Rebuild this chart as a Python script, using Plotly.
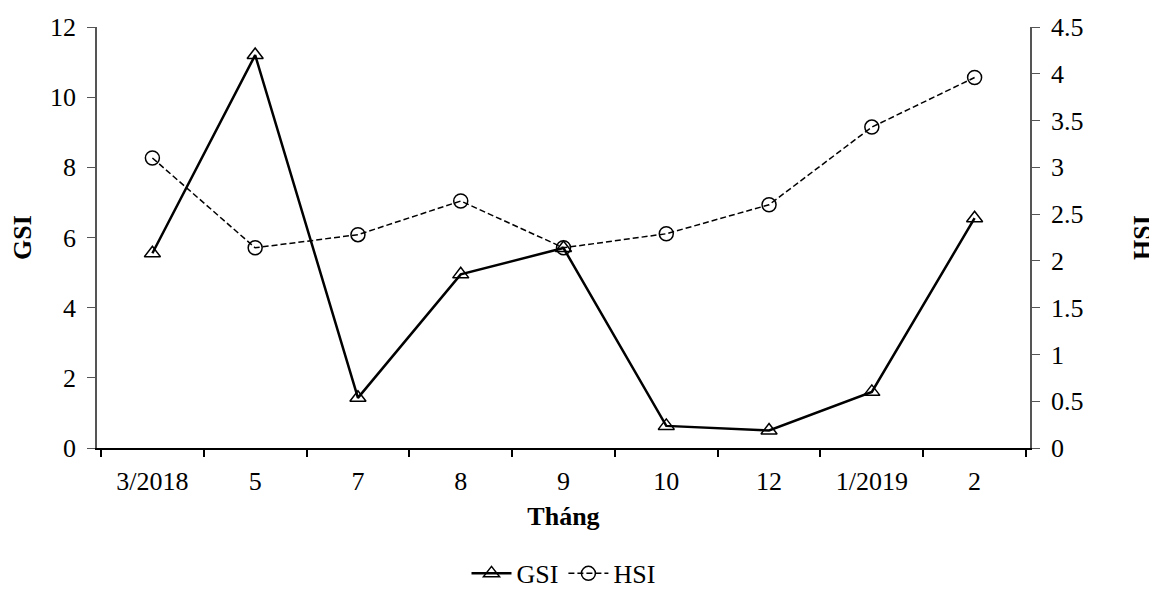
import plotly.graph_objects as go

months = ["3/2018", "5", "7", "8", "9", "10", "12", "1/2019", "2"]
gsi = [5.55, 11.2, 1.43, 4.95, 5.7, 0.63, 0.5, 1.6, 6.55]
hsi = [3.1, 2.14, 2.28, 2.64, 2.14, 2.29, 2.6, 3.43, 3.96]

FONT = "Liberation Serif"

fig = go.Figure()
fig.add_trace(go.Scatter(
    x=months, y=gsi, name="GSI", mode="lines+markers",
    line=dict(color="black", width=2.5),
    marker=dict(symbol="triangle-up-open", size=14, color="black", line=dict(width=1.5)),
    yaxis="y"))
fig.add_trace(go.Scatter(
    x=months, y=hsi, name="HSI", mode="lines+markers",
    line=dict(color="black", width=1.5, dash="6px,3px"),
    marker=dict(symbol="circle-open", size=14, color="black", line=dict(width=1.5)),
    yaxis="y2"))

fig.update_layout(
    width=1149, height=582,
    margin=dict(l=89, r=127, t=19, b=142, autoexpand=False),
    paper_bgcolor="white", plot_bgcolor="white",
    font=dict(family=FONT, size=26, color="black"),
    showlegend=True,
    legend=dict(orientation="h", x=0.5, xanchor="center", y=-0.298, yanchor="middle",
                font=dict(family=FONT, size=26), itemwidth=40, tracegroupgap=0),
    xaxis=dict(
        type="category", showline=True, linecolor="black", linewidth=2,
        ticks="outside", tickson="boundaries", ticklen=7, tickwidth=1.5, tickcolor="black",
        showgrid=False, zeroline=False, automargin=False, ticklabelstandoff=9,
        title=dict(text="<b>Tháng</b>", font=dict(family=FONT, size=26), standoff=12),
    ),
    yaxis=dict(
        range=[0, 12], dtick=2, showline=True, linecolor="#555", linewidth=1.5,
        ticks="outside", ticklen=8, tickcolor="#555", showgrid=False, zeroline=False,
        automargin=False, ticklabelstandoff=6,
        title=dict(text="<b>GSI</b>", font=dict(family=FONT, size=26), standoff=22),
    ),
    yaxis2=dict(
        range=[0, 4.5], dtick=0.5, overlaying="y", side="right",
        showline=True, linecolor="#555", linewidth=1.5, automargin=False,
        ticks="outside", ticklen=8, tickcolor="#555", showgrid=False, zeroline=False,
        ticklabelstandoff=6,
        title=dict(text="<b>HSI</b>", font=dict(family=FONT, size=26), standoff=52),
    ),
)

fig.write_html("out.html")
